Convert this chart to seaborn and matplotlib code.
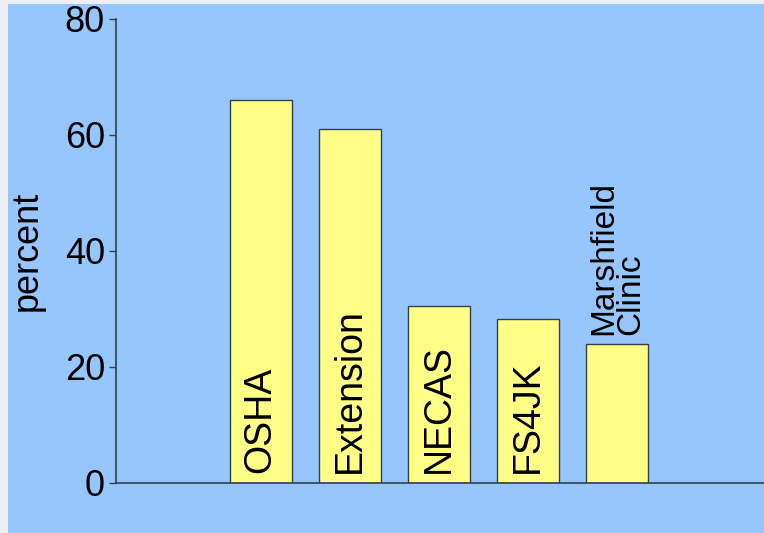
import matplotlib
matplotlib.use("Agg")
import matplotlib.pyplot as plt
import seaborn as sns
from matplotlib.patches import Rectangle

# data
sources = ["OSHA", "Extension", "NECAS", "FS4JK", "Marshfield\nClinic"]
percent = [66, 61, 30.5, 28.3, 24]
yticks = [0, 20, 40, 60, 80]

bg_blue = "#96c6fc"
bar_yellow = "#ffff88"
line_col = "#33404a"

sns.set_style("white")
plt.rcParams["font.family"] = ["Liberation Sans", "DejaVu Sans"]

fig = plt.figure(figsize=(7.64, 5.33), dpi=100)
fig.patch.set_facecolor("#eeeef6")
fig.patches.append(Rectangle((8 / 764, 0), 1, 529 / 533, transform=fig.transFigure,
                             facecolor=bg_blue, edgecolor="none", zorder=-5))

ax = fig.add_axes([116 / 764, 1 - 483 / 533, 1 - 116 / 764, 464 / 533])
ax.set_facecolor(bg_blue)
ax.set_zorder(1)

sns.barplot(x=list(range(len(sources))), y=percent, color=bar_yellow, saturation=1,
            edgecolor=line_col, linewidth=1.0, width=0.7, ax=ax, zorder=2)

# labels: inside the bar when it is tall enough, otherwise on top
for i, (name, v) in enumerate(zip(sources, percent)):
    if v > 25:
        ax.text(i, 1.7, name, rotation=90, ha="center", va="bottom",
                fontsize=27, color="black", zorder=3)
    else:
        ax.text(i, v + 1.6, name, rotation=90, ha="center", va="bottom",
                fontsize=24, color="black", linespacing=0.85,
                multialignment="left", zorder=3)

ax.set_xlim(-1.625, 5.65)
ax.set_ylim(0, 80)
ax.set_xticks([])
ax.set_yticks(yticks)
ax.tick_params(axis="y", labelsize=26, length=5, width=1, color=line_col,
               labelcolor="black", pad=3, left=True)
ax.set_ylabel("percent", fontsize=26, labelpad=14, color="black")

sns.despine(ax=ax, top=True, right=True)
for s in ["left", "bottom"]:
    ax.spines[s].set_color(line_col)
    ax.spines[s].set_linewidth(1.2)
ax.spines["bottom"].set_zorder(4)

fig.savefig("out.png", dpi=100, facecolor=fig.get_facecolor())
